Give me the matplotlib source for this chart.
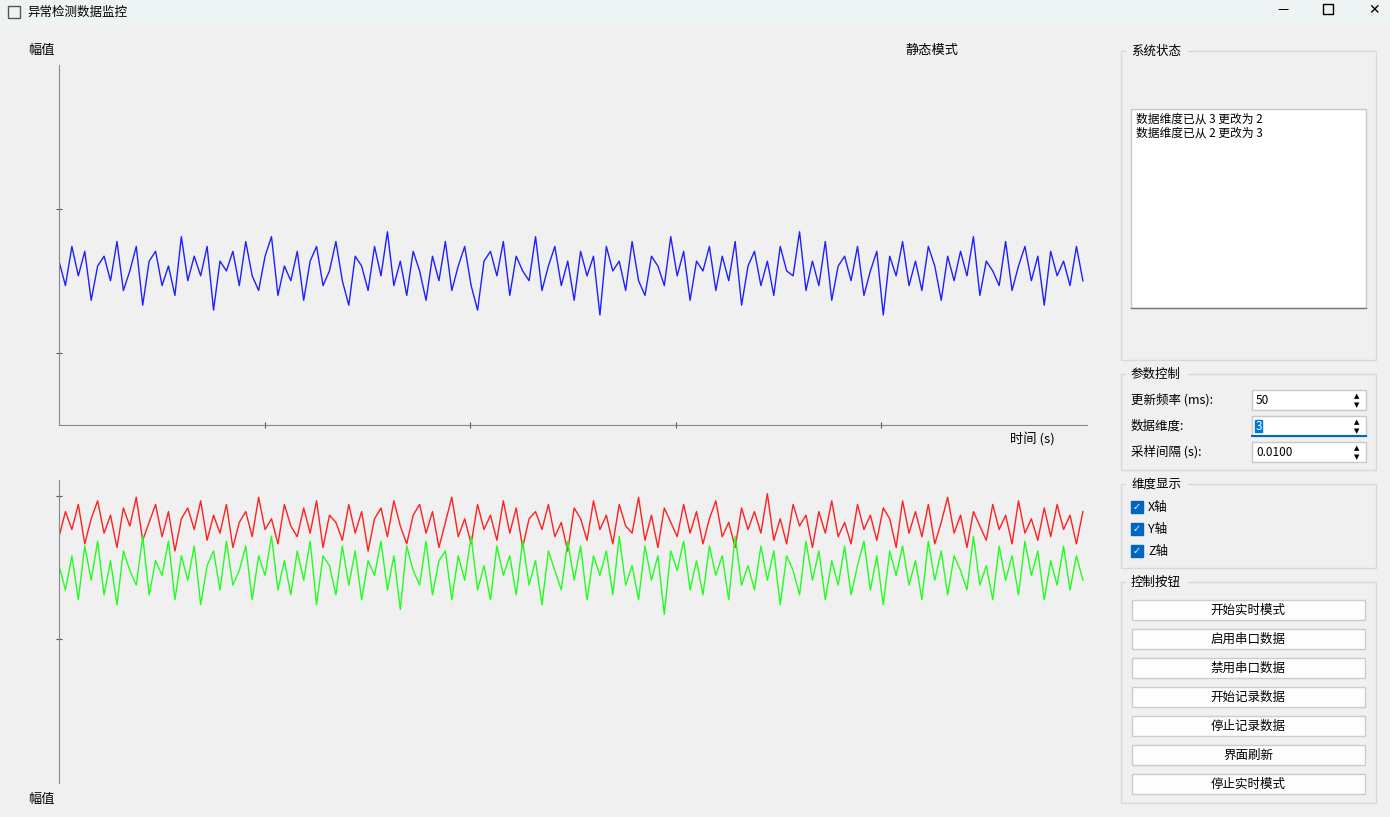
import numpy as np
import matplotlib.pyplot as plt
from matplotlib.patches import Rectangle

plt.rcParams['font.family'] = ['Noto Sans CJK SC', 'DejaVu Sans']

# noise, roughly (units: tenths of the swing)
blue = [2,-3,5,-1,4,-6,1,3,-2,6,-4,0,5,-7,2,4,-3,1,-5,7,-2,3,-1,5,-8,2,0,4,-3,6,-1,-4,3,7,-5,1,-2,4,-6,2,
        5,-3,0,6,-2,-7,3,1,-4,5,-1,8,-3,2,-5,4,0,-6,3,-2,6,-4,1,5,-3,-8,2,4,-1,6,-5,3,0,-2,7,-4,1,5,-3,2,
        -6,4,-1,3,-9,5,0,2,-4,6,-2,-5,3,1,-3,7,-1,4,-6,2,0,5,-4,3,-2,6,-7,1,4,-3,2,-5,5,0,-1,8,-4,2,-3,6,
        -6,1,3,-2,5,-5,0,4,-9,3,-1,6,-3,2,-4,5,1,-6,3,-2,4,-1,7,-5,2,0,-3,6,-4,1,5,-2,3,-7,4,-1,2,-3,5,-2]
red = [-3,4,-1,6,-5,2,7,-2,3,-6,5,0,8,-4,1,6,-3,4,-7,2,5,-1,7,-4,3,-2,6,-6,1,4,-3,8,-1,2,-5,6,0,-3,5,-2,
       7,-6,3,1,-4,6,-2,4,-7,2,5,-3,7,0,-5,3,6,-2,4,-6,1,8,-3,2,-5,6,-1,3,-4,7,-2,5,-6,2,4,-1,6,-3,1,-7,
       5,2,-4,7,-1,3,-5,6,0,-2,8,-4,3,-6,5,1,-3,6,-2,4,-5,2,7,-3,1,-6,5,-1,4,-2,9,-4,2,-5,6,0,3,-6,4,-2,
       7,-3,1,-5,6,-1,3,-4,5,2,-6,7,-2,4,-3,6,-5,1,8,-2,3,-6,4,0,-4,6,-1,3,-5,7,-2,2,-4,5,-3,6,-1,3,-5,4]
green = [1,-4,3,-6,5,-2,6,-5,2,-7,4,0,-3,7,-5,2,-1,6,-6,3,-2,5,-7,1,4,-4,6,-3,0,5,-6,3,-1,7,-4,2,-5,4,-2,6,
         -7,3,1,-5,5,-3,4,-6,2,-1,6,-4,3,-8,5,0,-3,6,-5,2,4,-6,3,-2,7,-4,1,-6,5,-1,3,-5,6,-3,2,-7,4,0,-4,6,
         -2,5,-6,3,-1,4,-5,7,-3,1,-6,5,-2,3,-9,4,0,6,-4,2,-5,5,-1,3,-6,7,-3,1,-4,5,-2,4,-7,3,0,-5,6,-2,4,-6,
         2,-3,5,-5,1,6,-4,3,-7,4,-1,5,-3,2,-6,6,-2,4,-5,3,0,-4,7,-3,1,-6,5,-2,3,-5,6,-1,4,-6,2,-3,5,-4,3,-2]

log_lines = ['数据维度已从 3 更改为 2', '数据维度已从 2 更改为 3']
params = [('更新频率 (ms):', '50'), ('数据维度:', '3'), ('采样间隔 (s):', '0.0100')]
dims = ['X轴', 'Y轴', 'Z轴']
buttons = ['开始实时模式', '启用串口数据', '禁用串口数据', '开始记录数据', '停止记录数据', '界面刷新', '停止实时模式']

W, H = 1390, 817
fig = plt.figure(figsize=(W / 100, H / 100), dpi=100, facecolor='#f0f0f0')

# background "window" canvas in pixel coordinates
bg = fig.add_axes([0, 0, 1, 1], zorder=0)
bg.set_xlim(0, W); bg.set_ylim(H, 0); bg.axis('off')
bg.add_patch(Rectangle((0, 0), W, 25, color='#eef3f3'))
bg.add_patch(Rectangle((8, 6), 12, 12, fill=False, ec='#555', lw=1))
bg.text(27, 12, '异常检测数据监控', fontsize=9, va='center')
bg.text(1283, 10, '—', fontsize=9, ha='center', va='center')
bg.add_patch(Rectangle((1323, 4), 10, 10, fill=False, ec='black', lw=1))
bg.text(1374, 10, '✕', fontsize=10, ha='center', va='center', family=['DejaVu Sans'])

def group(y0, y1, title):
    bg.add_patch(Rectangle((1121, y0), 255, y1 - y0, fill=False, ec='#d8d8d8', lw=1))
    bg.text(1131, y0, title, fontsize=9, va='center', backgroundcolor='#f0f0f0')

group(51, 360, '系统状态')
bg.add_patch(Rectangle((1131, 109), 235, 199, fc='white', ec='#c8c8c8', lw=1))
bg.plot([1131, 1366], [308, 308], color='#777', lw=1)
for i, s in enumerate(log_lines):
    bg.text(1136, 119 + 14 * i, s, fontsize=8.5, va='center')

group(374, 470, '参数控制')
for i, (lab, val) in enumerate(params):
    y = 400 + 26 * i
    bg.text(1131, y, lab, fontsize=9, va='center')
    bg.add_patch(Rectangle((1252, y - 10), 114, 20, fc='white', ec='#c8c8c8', lw=1))
    if i == 1:
        bg.plot([1252, 1366], [y + 10, y + 10], color='#0067c0', lw=1.5)
        bg.add_patch(Rectangle((1255, y - 6), 7, 12, color='#0078d4'))
    bg.text(1256, y, val, fontsize=8.5, va='center', color='white' if i == 1 else 'black')
    bg.text(1357, y - 4, '▲', fontsize=5, ha='center', va='center', family=['DejaVu Sans'])
    bg.text(1357, y + 5, '▼', fontsize=5, ha='center', va='center', family=['DejaVu Sans'])

group(484, 568, '维度显示')
for i, d in enumerate(dims):
    y = 507 + 22 * i
    bg.add_patch(Rectangle((1131, y - 6), 12, 12, color='#0067c0'))
    bg.text(1137, y, '✓', fontsize=7, color='white', ha='center', va='center', family=['DejaVu Sans'])
    bg.text(1148, y, d, fontsize=9, va='center')

group(582, 803, '控制按钮')
for i, b in enumerate(buttons):
    y = 610 + 29 * i
    bg.add_patch(Rectangle((1132, y - 10), 233, 20, fc='#fdfdfd', ec='#cccccc', lw=1))
    bg.text(1248, y, b, fontsize=9, ha='center', va='center')

bg.text(41, 50, '幅值', fontsize=9.5, ha='center', va='center')
bg.text(932, 50, '静态模式', fontsize=9.5, ha='center', va='center')
bg.text(1032, 440, '时间 (s)', fontsize=9.5, ha='center', va='center')
bg.text(41, 799, '幅值', fontsize=9.5, ha='center', va='center')

def px_axes(x0, y0, x1, y1):
    return fig.add_axes([x0 / W, 1 - y1 / H, (x1 - x0) / W, (y1 - y0) / H], zorder=1)

t = np.linspace(0, 4.98, len(blue))

ax1 = px_axes(59, 65, 1087, 425)
ax1.patch.set_alpha(0)
ax1.plot(t, 1.07 + np.array(blue) * 0.034, color='#1f1fff', lw=1)
ax1.set_xlim(0, 5); ax1.set_ylim(0, 2.5)
ax1.set_xticks([1, 2, 3, 4]); ax1.set_yticks([0.5, 1.5])
ax1.set_xticklabels([]); ax1.set_yticklabels([])
ax1.tick_params(color='#555', length=5, direction='inout')
for s in ['top', 'right']:
    ax1.spines[s].set_visible(False)
for s in ['left', 'bottom']:
    ax1.spines[s].set_color('#888')

t2 = np.linspace(0, 4.98, len(red))
ax2 = px_axes(59, 480, 1087, 783)
ax2.patch.set_alpha(0)
ax2.plot(t2, 1.29 + np.array(red) * 0.025, color='#ff2020', lw=1)
ax2.plot(np.linspace(0, 4.98, len(green)), 0.98 + np.array(green) * 0.034, color='#20ff20', lw=1)
ax2.set_xlim(0, 5); ax2.set_ylim(-0.5, 1.61)
ax2.set_xticks([]); ax2.set_yticks([0.5, 1.5]); ax2.set_yticklabels([])
ax2.tick_params(color='#555', length=5, direction='inout')
for s in ['top', 'right', 'bottom']:
    ax2.spines[s].set_visible(False)
ax2.spines['left'].set_color('#888')

fig.savefig('out.png', dpi=100, facecolor=fig.get_facecolor())
